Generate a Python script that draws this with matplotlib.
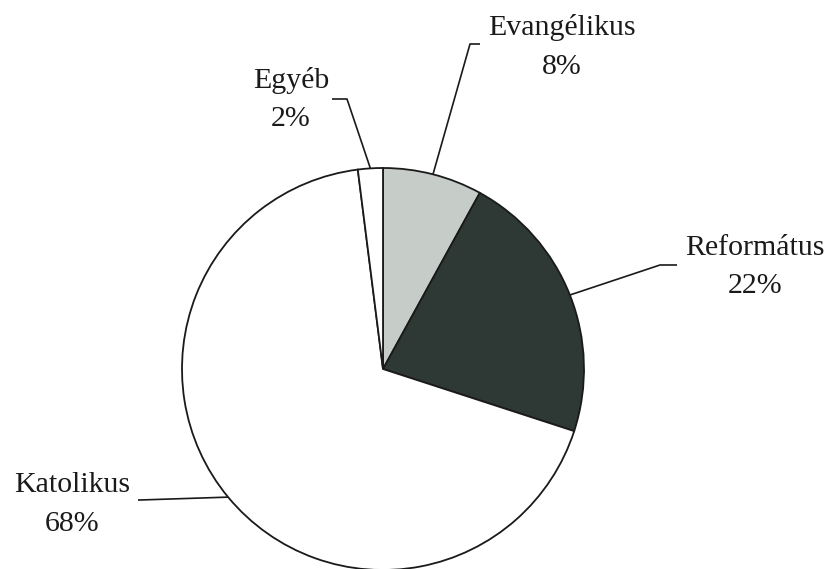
import numpy as np
import matplotlib.pyplot as plt

# Felekezeti megoszlás (%)
labels = ["Evangélikus", "Református", "Katolikus", "Egyéb"]
shares = [8, 22, 68, 2]
pct_labels = [f"{v}%" for v in shares]
colors = ["#c6ccc7", "#2e3935", "white", "white"]

W, H = 834, 569  # pixel canvas

# leader line elbow/end and text placement, in pixel coords (y from top)
layout = {
    "Evangélikus": dict(elbow=(470, 44), end=(480, 44), tx=562, ty=(35, 74)),
    "Református": dict(elbow=(660, 265), end=(677, 265), tx=755, ty=(255, 293)),
    "Katolikus": dict(elbow=(140, 500), end=(138, 500), tx=72, ty=(492, 531)),
    "Egyéb": dict(elbow=(347, 99), end=(332, 99), tx=291, ty=(88, 126)),
}

plt.rcParams["font.family"] = ["Liberation Serif", "DejaVu Serif"]

fig = plt.figure(figsize=(W / 100, H / 100), dpi=100)
ax = fig.add_axes([0, 0, 1, 1])

cx, cy, r = 383, H - 369, 201
wedges, _ = ax.pie(shares, colors=colors, startangle=90, counterclock=False,
                   center=(cx, cy), radius=r,
                   wedgeprops=dict(edgecolor="#1a1a1a", linewidth=1.3))
ax.set_xlim(0, W)
ax.set_ylim(0, H)
ax.set_aspect("equal")
ax.axis("off")

for w, name, pct in zip(wedges, labels, pct_labels):
    mid = np.deg2rad((w.theta1 + w.theta2) / 2)
    ax0, ay0 = cx + r * np.cos(mid), cy + r * np.sin(mid)
    lay = layout[name]
    ex, ey = lay["elbow"]
    nx, ny = lay["end"]
    ax.plot([ax0, ex, nx], [ay0, H - ey, H - ny], color="#1a1a1a", lw=1.2,
            solid_capstyle="butt")
    ax.text(lay["tx"], H - lay["ty"][0], name, ha="center", va="baseline",
            fontsize=21.5, color="#1a1a1a")
    ax.text(lay["tx"], H - lay["ty"][1], pct, ha="center", va="baseline",
            fontsize=21.5, color="#1a1a1a")

fig.savefig("out.png", dpi=100, facecolor="white")
